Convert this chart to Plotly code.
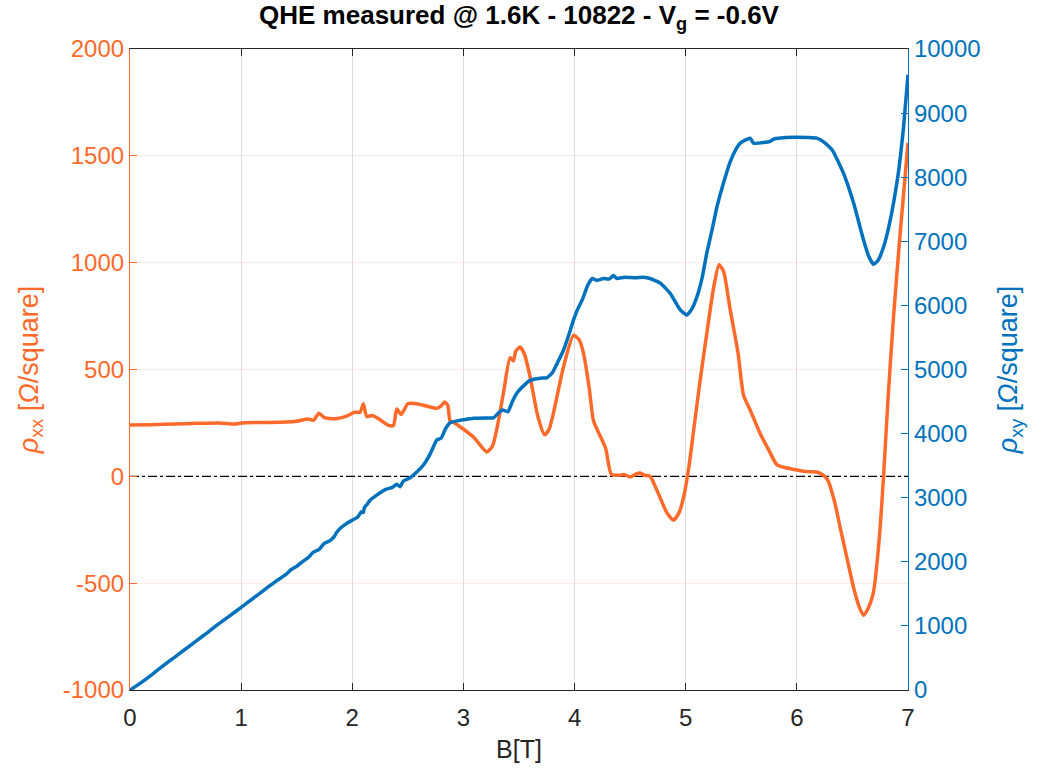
import plotly.graph_objects as go

# Magnetic field sweep (T) and longitudinal resistivity rho_xx (Ohm/square)
b_xx = [0.00, 0.20, 0.40, 0.60, 0.80, 0.95, 1.00, 1.20, 1.40, 1.50, 1.60, 1.65, 1.70, 1.75,
        1.85, 1.95, 2.02, 2.07, 2.10, 2.13, 2.18, 2.25, 2.32, 2.37, 2.40, 2.44, 2.50, 2.58,
        2.66, 2.76, 2.80, 2.83, 2.86, 2.88, 2.92, 2.97, 3.09, 3.21, 3.26, 3.30, 3.36, 3.42,
        3.45, 3.47, 3.51, 3.55, 3.60, 3.67, 3.73, 3.77, 3.81, 3.90, 3.99, 4.04, 4.08, 4.13,
        4.17, 4.22, 4.28, 4.33, 4.40, 4.45, 4.50, 4.55, 4.59, 4.63, 4.68, 4.72, 4.77, 4.83,
        4.89, 4.94, 4.98, 5.03, 5.07, 5.13, 5.19, 5.25, 5.30, 5.34, 5.40, 5.47, 5.52, 5.58,
        5.67, 5.75, 5.82, 5.90, 6.00, 6.10, 6.18, 6.24, 6.28, 6.34, 6.39, 6.45, 6.51, 6.56,
        6.60, 6.64, 6.69, 6.74, 6.78, 6.82, 6.87, 6.93, 7.00]
rho_xx = [240, 242, 245, 248, 250, 245, 250, 252, 254, 258, 268, 262, 295, 275,
          270, 282, 300, 300, 340, 280, 285, 265, 240, 238, 315, 290, 340, 340,
          330, 318, 330, 348, 330, 260, 250, 232, 184, 114, 140, 220, 390, 555,
          540, 585, 605, 570, 465, 280, 195, 220, 296, 512, 660, 640, 577, 420,
          260, 200, 130, 10, 5, 8, -3, 10, 16, 5, 0, -40, -100, -170,
          -205, -170, -100, 50, 210, 450, 670, 880, 990, 960, 780, 580, 380, 310,
          200, 120, 55, 40, 30, 22, 20, 5, -20, -120, -240, -380, -520, -610,
          -650, -620, -540, -300, 0, 360, 750, 1140, 1560]

# Magnetic field sweep (T) and Hall resistivity rho_xy (Ohm/square)
b_xy = [0.00, 0.10, 0.20, 0.30, 0.40, 0.50, 0.60, 0.70, 0.80, 0.90, 1.00, 1.10, 1.20, 1.30,
        1.40, 1.45, 1.50, 1.55, 1.60, 1.65, 1.70, 1.75, 1.80, 1.84, 1.86, 1.89, 1.95, 2.00,
        2.05, 2.08, 2.10, 2.11, 2.13, 2.16, 2.22, 2.30, 2.36, 2.40, 2.43, 2.46, 2.52, 2.58,
        2.64, 2.70, 2.76, 2.80, 2.84, 2.88, 2.95, 3.00, 3.09, 3.20, 3.27, 3.32, 3.35, 3.40,
        3.44, 3.48, 3.55, 3.60, 3.69, 3.75, 3.80, 3.85, 3.90, 3.95, 3.99, 4.03, 4.07, 4.12,
        4.16, 4.20, 4.26, 4.31, 4.35, 4.38, 4.45, 4.55, 4.62, 4.68, 4.77, 4.86, 4.95, 5.01,
        5.05, 5.10, 5.15, 5.19, 5.24, 5.28, 5.34, 5.40, 5.45, 5.49, 5.55, 5.58, 5.61, 5.70,
        5.76, 5.80, 5.85, 5.90, 6.00, 6.10, 6.18, 6.25, 6.32, 6.37, 6.42, 6.51, 6.60, 6.65,
        6.69, 6.73, 6.78, 6.83, 6.87, 6.92, 6.96, 7.00]
rho_xy = [0, 115, 245, 380, 510, 640, 770, 900, 1035, 1160, 1290, 1420, 1550, 1680,
          1800, 1880, 1930, 2000, 2060, 2150, 2190, 2290, 2330, 2400, 2460, 2520, 2600, 2650,
          2700, 2780, 2770, 2850, 2890, 2960, 3040, 3130, 3160, 3210, 3170, 3260, 3310, 3400,
          3510, 3680, 3900, 3930, 4080, 4170, 4200, 4215, 4240, 4245, 4245, 4330, 4370, 4340,
          4500, 4630, 4760, 4830, 4865, 4870, 4950, 5120, 5300, 5550, 5770, 5950, 6090, 6320,
          6420, 6390, 6420, 6410, 6465, 6420, 6440, 6430, 6440, 6420, 6350, 6190, 5930, 5850,
          5930, 6130, 6450, 6820, 7200, 7530, 7910, 8240, 8430, 8530, 8590, 8610, 8530, 8540,
          8560, 8600, 8610, 8620, 8625, 8620, 8610, 8540, 8420, 8250, 8060, 7600, 7020, 6750,
          6640, 6700, 6910, 7250, 7600, 8150, 8780, 9600]

# Zero reference for rho_xx
zero_b = [0, 7]
zero_val = [0, 0]

# Tick positions and labels
x_ticks = [0, 1, 2, 3, 4, 5, 6, 7]
xx_ticks = [-1000, -500, 0, 500, 1000, 1500, 2000]
xx_labels = ["-1000", "-500", "0", "500", "1000", "1500", "2000"]
xy_ticks = [0, 1000, 2000, 3000, 4000, 5000, 6000, 7000, 8000, 9000, 10000]
xy_labels = [str(v) for v in xy_ticks]

ORANGE = "#FF6A2B"
BLUE = "#0072BD"
FONT = "Liberation Sans, Arial, sans-serif"

fig = go.Figure()

fig.add_trace(go.Scatter(x=zero_b, y=zero_val, mode="lines",
                         line=dict(color="black", width=1.2, dash="dashdot"),
                         yaxis="y", showlegend=False, hoverinfo="skip"))
fig.add_trace(go.Scatter(x=b_xx, y=rho_xx, mode="lines",
                         line=dict(color=ORANGE, width=3.5, shape="spline", smoothing=0.6),
                         yaxis="y", showlegend=False))
fig.add_trace(go.Scatter(x=b_xy, y=rho_xy, mode="lines",
                         line=dict(color=BLUE, width=3.5, shape="spline", smoothing=0.4),
                         yaxis="y2", showlegend=False))

fig.update_layout(
    width=1049, height=773,
    margin=dict(l=130, r=141, t=49, b=83),
    paper_bgcolor="white", plot_bgcolor="white",
    font=dict(family=FONT, size=24, color="#262626"),
    title=dict(text="<b>QHE measured @ 1.6K - 10822 - V<sub>g</sub> = -0.6V</b>",
               x=0.5, xref="paper", xanchor="center", y=0.992, yanchor="top",
               font=dict(family=FONT, size=26, color="black")),
    xaxis=dict(range=[0, 7], tickvals=x_ticks, ticktext=[str(v) for v in x_ticks],
               showgrid=True, gridcolor="rgba(0,0,0,0.13)", gridwidth=1,
               showline=True, linecolor="#262626", linewidth=1.2, mirror="ticks",
               ticks="inside", ticklen=7, tickcolor="#262626",
               zeroline=False, ticklabelstandoff=6,
               title=dict(text="B[T]", standoff=10, font=dict(size=25, color="#262626")),
               tickfont=dict(size=24, color="#262626")),
    yaxis=dict(range=[-1000, 2000], tickvals=xx_ticks, ticktext=xx_labels,
               showgrid=True, gridcolor="rgba(255,106,43,0.12)", gridwidth=1,
               showline=True, linecolor=ORANGE, linewidth=1.2,
               ticks="inside", ticklen=7, tickcolor=ORANGE,
               zeroline=False,
               tickfont=dict(size=24, color=ORANGE),
               title=dict(text="<i>ρ</i><sub>xx</sub> [<i>Ω</i>/square]", standoff=16,
                          font=dict(size=27, color=ORANGE))),
    yaxis2=dict(range=[0, 10000], tickvals=xy_ticks, ticktext=xy_labels,
                overlaying="y", side="right", showgrid=False,
                showline=True, linecolor=BLUE, linewidth=1.2,
                ticks="inside", ticklen=7, tickcolor=BLUE,
                zeroline=False,
                tickfont=dict(size=24, color=BLUE),
                title=dict(text="<i>ρ</i><sub>xy</sub> [<i>Ω</i>/square]", standoff=18,
                           font=dict(size=27, color=BLUE))),
)

fig.write_html("out.html")
